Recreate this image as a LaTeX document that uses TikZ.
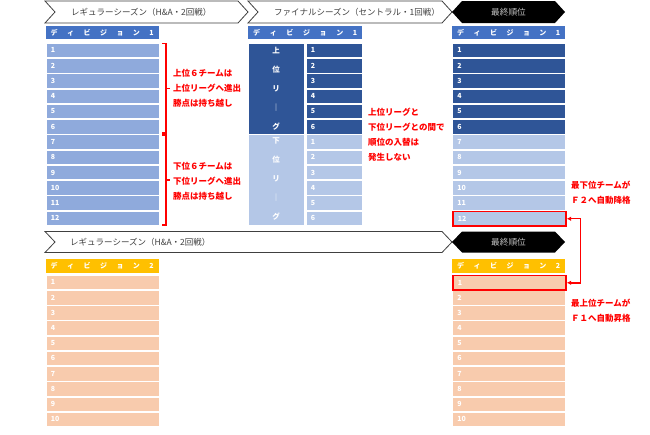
\documentclass[tikz,border=0pt]{standalone}
\usepackage{fontspec}
\setmainfont{Noto Sans CJK JP}
\usetikzlibrary{arrows.meta}
\definecolor{hdrblue}{HTML}{4472C4}
\definecolor{rowblue}{HTML}{8FAADC}
\definecolor{darkblue}{HTML}{2F5597}
\definecolor{lightblue}{HTML}{B4C7E7}
\definecolor{peach}{HTML}{F8CBAD}
\definecolor{gold}{HTML}{FFC000}
\definecolor{outline}{HTML}{404040}
\definecolor{redc}{HTML}{FF0000}
\definecolor{ranktxt}{HTML}{BFBFBF}
\begin{document}
\begin{tikzpicture}[x=1pt,y=-1pt,
  cellbase/.style={anchor=north west, draw=white, line width=0.6pt, inner xsep=5pt, inner ysep=0pt, align=left, minimum height=14.6pt, font=\fontsize{7}{7}\selectfont\bfseries, text=white},
  widecell/.style={cellbase, text width=103pt},
  narrowcell/.style={cellbase, text width=46.5pt},
  hdrbox/.style={anchor=north west, inner xsep=5pt, inner ysep=0pt, align=left, font=\fontsize{7}{7}\selectfont\bfseries, text=white},
  mergedcell/.style={anchor=north west, draw=white, line width=0.6pt, minimum width=56pt, minimum height=90.9pt, inner sep=0pt},
  vchar/.style={inner sep=0pt, font=\fontsize{7.5}{8}\selectfont\bfseries, text=white},
  chevron/.style={draw=outline, line width=0.8pt, fill=white},
  titletext/.style={anchor=west, inner sep=0pt, font=\fontsize{8.5}{9}\selectfont, text=outline},
  ranktext/.style={inner sep=0pt, font=\fontsize{8.7}{9}\selectfont, text=ranktxt},
  redtext/.style={anchor=north west, inner sep=0pt, align=left, font=\fontsize{8.5}{15.2}\selectfont\bfseries, text=redc},
  redbox/.style={draw=redc, line width=1.6pt},
  bracket/.style={draw=redc, line width=1.2pt},
  link/.style={draw=redc, line width=1.4pt, {Latex[length=4.5pt,width=4.5pt]}-{Latex[length=4.5pt,width=4.5pt]}}
]
\useasboundingbox (0,0) rectangle (650,434);
\fill[white] (0,0) rectangle (650,434);

% --- top chevrons
\draw[chevron] (45,1) -- (238,1) -- (248,12) -- (238,23) -- (45,23) -- (55,12) -- cycle;
\node[titletext] (t1) at (71,12) {レギュラーシーズン（H\&A・2回戦）};
\draw[chevron] (248,1) -- (442,1) -- (452,12) -- (442,23) -- (248,23) -- (258,12) -- cycle;
\node[titletext] (t2) at (274,12) {ファイナルシーズン（セントラル・1回戦）};
\fill[black] (452,12) -- (462,1) -- (555,1) -- (565,12) -- (555,23) -- (462,23) -- cycle;
\node[ranktext] (t3) at (508.5,12) {最終順位};

% --- division 1 headers
\node[hdrbox, fill=hdrblue, minimum height=13pt, text width=103pt] (h1) at (45.5,26) {デ\hfill ィ\hfill ビ\hfill ジ\hfill ョ\hfill ン\hfill 1};
\node[hdrbox, fill=hdrblue, minimum height=13pt, text width=104pt] (h2) at (248,26) {デ\hfill ィ\hfill ビ\hfill ジ\hfill ョ\hfill ン\hfill 1};
\node[hdrbox, fill=hdrblue, minimum height=13pt, text width=103pt] (h3) at (452,26) {デ\hfill ィ\hfill ビ\hfill ジ\hfill ョ\hfill ン\hfill 1};

% --- division 1 regular season
\foreach \i in {1,...,12} {
  \pgfmathsetmacro{\yy}{42.7+(\i-1)*15.27}
  \node[widecell, fill=rowblue] (l\i) at (45.5,\yy) {\i};
}
% --- final season
\node[mergedcell, fill=darkblue] (up) at (248,42.7) {};
\node[mergedcell, fill=lightblue] (lo) at (248,134.3) {};
\foreach \c/\k in {上/1,位/2,リ/3,｜/4,グ/5} {
  \pgfmathsetmacro{\yy}{51+(\k-1)*18.8}
  \node[vchar] (uc\k) at (276,\yy) {\c};
}
\foreach \c/\k in {下/1,位/2,リ/3,｜/4,グ/5} {
  \pgfmathsetmacro{\yy}{141+(\k-1)*19}
  \node[vchar] (lc\k) at (276,\yy) {\c};
}
\foreach \i in {1,...,6} {
  \pgfmathsetmacro{\yy}{42.7+(\i-1)*15.27}
  \node[narrowcell, fill=darkblue] (m\i) at (305.5,\yy) {\i};
  \pgfmathsetmacro{\zz}{42.7+(\i+5)*15.27}
  \node[narrowcell, fill=lightblue] (n\i) at (305.5,\zz) {\i};
}
% --- final ranking div 1
\foreach \i in {1,...,6} {
  \pgfmathsetmacro{\yy}{42.7+(\i-1)*15.27}
  \node[widecell, fill=darkblue] (f\i) at (452,\yy) {\i};
}
\foreach \i in {7,...,11} {
  \pgfmathsetmacro{\yy}{42.7+(\i-1)*15.27}
  \node[widecell, fill=lightblue] (f\i) at (452,\yy) {\i};
}
\node[widecell, fill=lightblue, redbox] (f12) at (452,210.67) {12};

% --- brackets and notes
\draw[bracket] (162,43.5) -- (166,43.5) -- (166,133) -- (162,133);
\draw[bracket] (166,88.5) -- (170,88.5);
\draw[bracket] (162,135) -- (166,135) -- (166,225) -- (162,225);
\draw[bracket] (166,180) -- (170,180);
\node[redtext] (na) at (173,68.8) {上位６チームは\\上位リーグへ進出\\勝点は持ち越し};
\node[redtext] (nb) at (173,161.8) {下位６チームは\\下位リーグへ進出\\勝点は持ち越し};
\node[redtext] (nc) at (368,107.7) {上位リーグと\\下位リーグとの間で\\順位の入替は\\発生しない};
\node[redtext] (nd) at (571,180.7) {最下位チームが\\Ｆ２へ自動降格};
\node[redtext] (ne) at (571,298.7) {最上位チームが\\Ｆ１へ自動昇格};

% --- bottom chevrons
\draw[chevron] (45,231.5) -- (442,231.5) -- (452,242) -- (442,252.5) -- (45,252.5) -- (55,242) -- cycle;
\node[titletext] (t4) at (70,242) {レギュラーシーズン（H\&A・2回戦）};
\fill[black] (452,242) -- (462,231.5) -- (555,231.5) -- (565,242) -- (555,252.5) -- (462,252.5) -- cycle;
\node[ranktext] (t5) at (508.5,242) {最終順位};

% --- division 2
\node[hdrbox, fill=gold, minimum height=14pt, text width=103pt] (h4) at (45.5,258.7) {デ\hfill ィ\hfill ビ\hfill ジ\hfill ョ\hfill ン\hfill 2};
\node[hdrbox, fill=gold, minimum height=14pt, text width=103pt] (h5) at (452,258.7) {デ\hfill ィ\hfill ビ\hfill ジ\hfill ョ\hfill ン\hfill 2};
\foreach \i in {1,...,10} {
  \pgfmathsetmacro{\yy}{274.7+(\i-1)*15.23}
  \node[widecell, fill=peach] (b\i) at (45.5,\yy) {\i};
}
\foreach \i in {2,...,10} {
  \pgfmathsetmacro{\yy}{274.7+(\i-1)*15.23}
  \node[widecell, fill=peach] (g\i) at (452,\yy) {\i};
}
\node[widecell, fill=peach, redbox] (g1) at (452,274.7) {1};

% --- promotion / relegation link
\draw[link] (f12.east) -- ++(14,0) |- (g1.east);
\end{tikzpicture}
\end{document}
